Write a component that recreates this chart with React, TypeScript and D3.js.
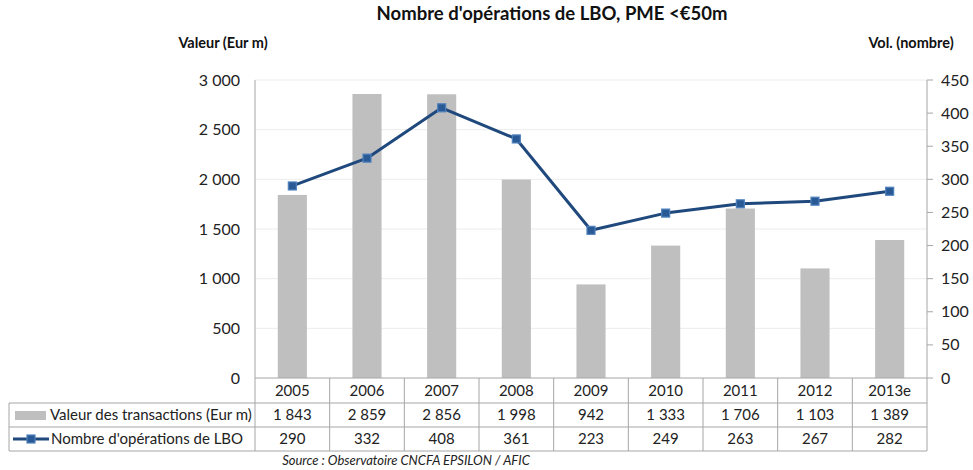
import * as d3 from "d3";

const years = ["2005", "2006", "2007", "2008", "2009", "2010", "2011", "2012", "2013e"];
const valeurs = [1843, 2859, 2856, 1998, 942, 1333, 1706, 1103, 1389];
const valeursLabels = ["1 843", "2 859", "2 856", "1 998", "942", "1 333", "1 706", "1 103", "1 389"];
const operations = [290, 332, 408, 361, 223, 249, 263, 267, 282];
const leftTicks = [0, 500, 1000, 1500, 2000, 2500, 3000];
const rightTicks = [0, 50, 100, 150, 200, 250, 300, 350, 400, 450];

const W = 973;
const H = 470;
const plotLeft = 255;
const plotRight = 927;
const plotTop = 80;
const plotBottom = 378;
const rowH = [25, 24, 24];

const font = "Lato, 'Open Sans', sans-serif";
const gridColor = "#ececec";
const lineColor = "#a6a6a6";
const barColor = "#bfbfbf";
const navy = "#1f497d";
const markerFill = "#2a5a96";
const markerEdge = "#4f81bd";

const fmt = (v: number) => (v >= 1000 ? d3.format(",")(v).replace(",", " ") : String(v));

export default function App() {
  const x = d3.scaleBand<string>().domain(years).range([plotLeft, plotRight]).paddingInner(0).paddingOuter(0);
  const yL = d3.scaleLinear().domain([0, 3000]).range([plotBottom, plotTop]);
  const yR = d3.scaleLinear().domain([0, 450]).range([plotBottom, plotTop]);
  const bw = x.bandwidth() * 0.39;
  const cx = (d: string) => (x(d) as number) + x.bandwidth() / 2;

  const line = d3
    .line<number>()
    .x((_, i) => cx(years[i]))
    .y((d) => yR(d));

  const r1 = plotBottom + rowH[0];
  const r2 = r1 + rowH[1];
  const r3 = r2 + rowH[2];
  const tableLeft = 9;

  return (
    <div style={{ position: "absolute", left: 0, top: 0 }}>
      <svg width={W} height={H} style={{ display: "block", fontFamily: font }}>
        <rect width={W} height={H} fill="#fff" />
        <text x={552} y={20} textAnchor="middle" fontSize={18.5} fontWeight="bold" fill="#111">
          Nombre d'opérations de LBO, PME &lt;€50m
        </text>
        <text x={223} y={48} textAnchor="middle" fontSize={14.5} fontWeight="bold" fill="#111">
          Valeur (Eur m)
        </text>
        <text x={911} y={48} textAnchor="middle" fontSize={14.5} fontWeight="bold" fill="#111">
          Vol. (nombre)
        </text>

        {/* gridlines */}
        {leftTicks.filter((t) => t > 0).map((t) => (
          <line key={"g" + t} x1={plotLeft} x2={plotRight} y1={yL(t)} y2={yL(t)} stroke={gridColor} strokeWidth={1} />
        ))}

        {/* bars */}
        {years.map((yr, i) => (
          <rect key={yr} x={cx(yr) - bw / 2} y={yL(valeurs[i])} width={bw} height={plotBottom - yL(valeurs[i])} fill={barColor} />
        ))}

        {/* left axis labels */}
        {leftTicks.map((t) => (
          <text key={"l" + t} x={240} y={yL(t)} dy="0.35em" textAnchor="end" fontSize={16} fill="#222">
            {fmt(t)}
          </text>
        ))}

        {/* right axis */}
        <line x1={plotRight} x2={plotRight} y1={plotTop} y2={plotBottom} stroke={lineColor} />
        {rightTicks.map((t) => (
          <g key={"r" + t}>
            <line x1={plotRight} x2={plotRight + 6} y1={yR(t)} y2={yR(t)} stroke={lineColor} />
            <text x={plotRight + 14} y={yR(t)} dy="0.35em" fontSize={16} fill="#222">
              {t}
            </text>
          </g>
        ))}

        {/* line series */}
        <path d={line(operations) ?? ""} fill="none" stroke={navy} strokeWidth={3} strokeLinejoin="round" />
        {operations.map((v, i) => (
          <rect key={"m" + i} x={cx(years[i]) - 4} y={yR(v) - 4} width={8} height={8} fill={markerFill} stroke={markerEdge} strokeWidth={1.2} />
        ))}

        {/* data table */}
        <line x1={plotLeft} x2={plotLeft} y1={plotTop} y2={r3} stroke={lineColor} />
        <line x1={plotLeft} x2={plotRight} y1={plotBottom} y2={plotBottom} stroke={lineColor} />
        <line x1={tableLeft} x2={plotRight} y1={r1} y2={r1} stroke={lineColor} />
        <line x1={tableLeft} x2={plotRight} y1={r2} y2={r2} stroke={lineColor} />
        <line x1={tableLeft} x2={plotRight} y1={r3} y2={r3} stroke={lineColor} />
        <line x1={tableLeft} x2={tableLeft} y1={r1} y2={r3} stroke={lineColor} />
        {years.map((yr) => (
          <line key={"v" + yr} x1={(x(yr) as number) + x.bandwidth()} x2={(x(yr) as number) + x.bandwidth()} y1={plotBottom} y2={r3} stroke={lineColor} />
        ))}
        {years.map((yr, i) => (
          <g key={"t" + yr} fontSize={15} fill="#222" textAnchor="middle">
            <text x={cx(yr)} y={(plotBottom + r1) / 2} dy="0.36em">{yr}</text>
            <text x={cx(yr)} y={(r1 + r2) / 2} dy="0.36em">{valeursLabels[i]}</text>
            <text x={cx(yr)} y={(r2 + r3) / 2} dy="0.36em">{operations[i]}</text>
          </g>
        ))}

        {/* legend cells */}
        <rect x={15} y={(r1 + r2) / 2 - 4} width={31} height={9} fill={barColor} />
        <text x={50} y={(r1 + r2) / 2} dy="0.36em" fontSize={15} fill="#222">
          Valeur des transactions (Eur m)
        </text>
        <line x1={13} x2={49} y1={(r2 + r3) / 2} y2={(r2 + r3) / 2} stroke={navy} strokeWidth={3} />
        <rect x={27} y={(r2 + r3) / 2 - 4} width={8} height={8} fill={markerFill} stroke={markerEdge} strokeWidth={1.2} />
        <text x={51} y={(r2 + r3) / 2} dy="0.36em" fontSize={15} fill="#222">
          Nombre d'opérations de LBO
        </text>

        <text x={406} y={465} textAnchor="middle" fontSize={13} fontStyle="italic" fill="#222">
          Source : Observatoire CNCFA EPSILON / AFIC
        </text>
      </svg>
    </div>
  );
}
